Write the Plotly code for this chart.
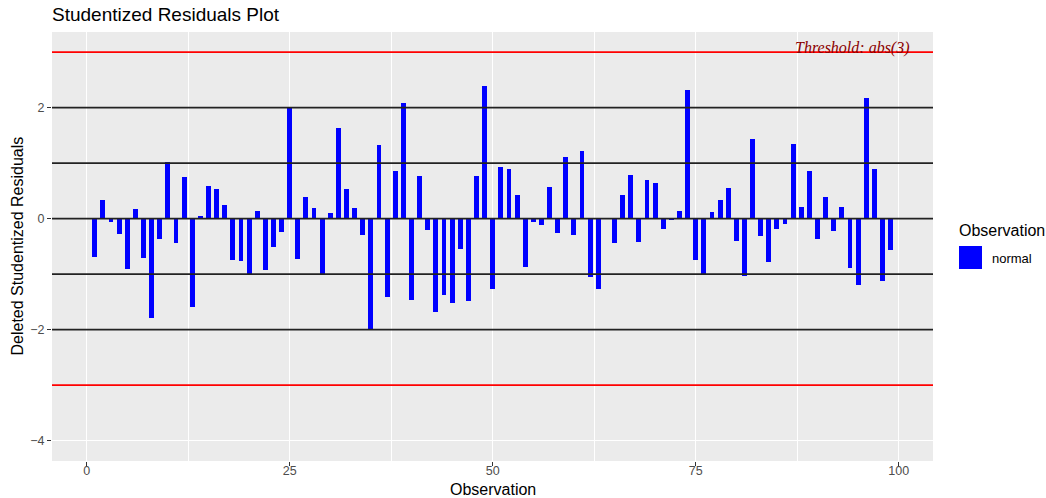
import plotly.graph_objects as go

# Deleted studentized residuals per observation
observation = list(range(1, 100))
residuals = [
    -0.69, 0.34, -0.06, -0.28, -0.91, 0.17, -0.71, -1.79, -0.37, 1.02,
    -0.44, 0.75, -1.59, 0.05, 0.59, 0.53, 0.25, -0.74, -0.76, -1.00,
    0.14, -0.92, -0.51, -0.24, 2.00, -0.73, 0.39, 0.19, -1.00, 0.10,
    1.63, 0.53, 0.19, -0.29, -2.01, 1.33, -1.41, 0.86, 2.08, -1.47,
    0.77, -0.20, -1.68, -1.38, -1.52, -0.55, -1.48, 0.77, 2.39, -1.27,
    0.93, 0.89, 0.43, -0.87, -0.06, -0.11, 0.57, -0.26, 1.11, -0.29,
    1.22, -1.05, -1.27, 0.00, -0.44, 0.43, 0.79, -0.42, 0.70, 0.64,
    -0.19, -0.02, 0.14, 2.32, -0.74, -1.00, 0.12, 0.34, 0.55, -0.40,
    -1.03, 1.44, -0.31, -0.78, -0.19, -0.10, 1.35, 0.21, 0.86, -0.37,
    0.39, -0.22, 0.21, -0.89, -1.20, 2.17, 0.89, -1.12, -0.56,
]
reference_lines = [-2, -1, 0, 1, 2]
threshold = 3
x_ticks = [0, 25, 50, 75, 100]
y_ticks = [-4, -2, 0, 2]

W, H = 1046, 498
L, R, T, B = 52, 113, 32, 37
PW = W - L - R
PH = H - T - B


def px_x(p):
    return (p - L) / PW


def px_y(p):
    return 1 - (p - T) / PH


fig = go.Figure()
fig.add_trace(go.Bar(
    x=observation, y=residuals, width=0.6,
    marker=dict(color="#0000FF", line=dict(width=0)),
    showlegend=False, hoverinfo="x+y",
))

shapes = []
for v in reference_lines:
    shapes.append(dict(type="line", xref="paper", x0=0, x1=1, yref="y", y0=v, y1=v,
                       line=dict(color="#222222", width=1.7), layer="above"))
for v in (threshold, -threshold):
    shapes.append(dict(type="line", xref="paper", x0=0, x1=1, yref="y", y0=v, y1=v,
                       line=dict(color="#FF0000", width=1.7), layer="above"))

# legend key drawn by hand
shapes.append(dict(type="rect", xref="paper", yref="paper",
                   x0=px_x(959), x1=px_x(982), y0=px_y(246), y1=px_y(269),
                   fillcolor="#0000FF", line=dict(width=0)))

annotations = [
    dict(text="<i>Threshold: abs(3)</i>", x=101.6, y=threshold, xref="x", yref="y",
         xanchor="right", yanchor="bottom", yshift=-7, showarrow=False,
         font=dict(family="Liberation Serif", size=16, color="#8B0000")),
    dict(text="Observation", xref="paper", yref="paper", x=px_x(957), y=px_y(231),
         xanchor="left", yanchor="middle", showarrow=False,
         font=dict(family="Liberation Sans", size=16, color="#000000")),
    dict(text="normal", xref="paper", yref="paper", x=px_x(990), y=px_y(258),
         xanchor="left", yanchor="middle", showarrow=False,
         font=dict(family="Liberation Sans", size=13, color="#000000")),
    # axis titles
    dict(text="Observation", xref="paper", yref="paper", x=0.5, y=px_y(489),
         xanchor="center", yanchor="middle", showarrow=False,
         font=dict(family="Liberation Sans", size=16, color="#000000")),
    dict(text="Deleted Studentized Residuals", xref="paper", yref="paper",
         x=px_x(17), y=0.5, xanchor="center", yanchor="middle", textangle=-90,
         showarrow=False, font=dict(family="Liberation Sans", size=16, color="#000000")),
]

fig.update_layout(
    width=W, height=H,
    margin=dict(l=L, r=R, t=T, b=B, pad=0, autoexpand=False),
    paper_bgcolor="white", plot_bgcolor="#EBEBEB",
    font=dict(family="Liberation Sans", color="#000000"),
    title=dict(text="Studentized Residuals Plot", x=0, xref="paper",
               xanchor="left", y=1 - 14 / H, yanchor="middle",
               font=dict(size=19, color="#000000")),
    shapes=shapes, annotations=annotations,
    bargap=0, showlegend=False,
)

fig.update_xaxes(
    range=[-4.27, 104.22], tickvals=x_ticks, ticks="outside", ticklen=4,
    tickcolor="#333333", tickwidth=1, showline=False, zeroline=False,
    showgrid=True, gridcolor="white", gridwidth=1.1, automargin=False,
    minor=dict(tick0=12.5, dtick=25, showgrid=True, gridcolor="white", gridwidth=0.6, ticks=""),
    tickfont=dict(size=12.5, color="#4D4D4D"), ticklabelstandoff=-6,
)
fig.update_yaxes(
    range=[-4.366, 3.364], tickvals=y_ticks, ticks="outside", ticklen=4,
    tickcolor="#333333", tickwidth=1, showline=False, zeroline=False,
    showgrid=True, gridcolor="white", gridwidth=1.1, automargin=False,
    minor=dict(tick0=-3, dtick=2, showgrid=True, gridcolor="white", gridwidth=0.6, ticks=""),
    tickfont=dict(size=12.5, color="#4D4D4D"),
)

fig.write_html("out.html")
